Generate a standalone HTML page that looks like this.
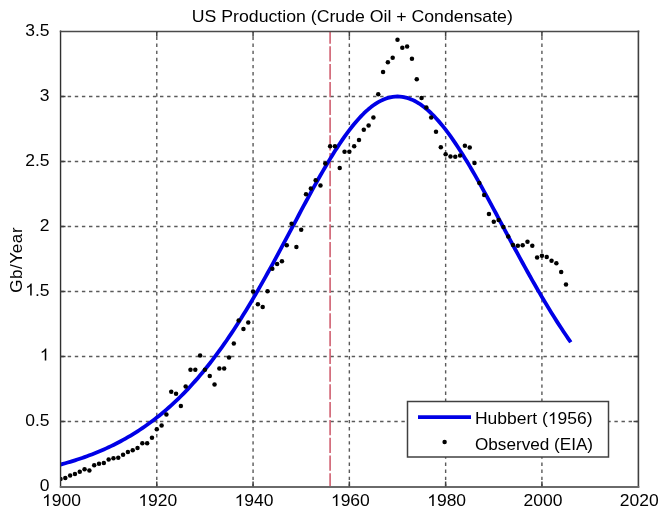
<!DOCTYPE html>
<html><head><meta charset="utf-8"><style>
html,body{margin:0;padding:0;background:#fff;width:662px;height:515px;overflow:hidden}
svg{display:block;will-change:transform}
.h{fill-opacity:0;stroke:none}
text{font-family:"Liberation Sans",sans-serif;font-size:17.5px;fill:#000;stroke:none}
</style></head><body>
<svg width="662" height="515" viewBox="0 0 662 515">
<rect width="662" height="515" fill="#fff"/>
<line x1="156.78" y1="31.5" x2="156.78" y2="486.5" stroke="#5a5a5a" stroke-width="1.4" stroke-dasharray="3.4 3.7" stroke-dashoffset="2.1"/>
<line x1="253.07" y1="31.5" x2="253.07" y2="486.5" stroke="#5a5a5a" stroke-width="1.4" stroke-dasharray="3.4 3.7" stroke-dashoffset="2.1"/>
<line x1="349.35" y1="31.5" x2="349.35" y2="486.5" stroke="#5a5a5a" stroke-width="1.4" stroke-dasharray="3.4 3.7" stroke-dashoffset="2.1"/>
<line x1="445.64" y1="31.5" x2="445.64" y2="486.5" stroke="#5a5a5a" stroke-width="1.4" stroke-dasharray="3.4 3.7" stroke-dashoffset="2.1"/>
<line x1="541.92" y1="31.5" x2="541.92" y2="486.5" stroke="#5a5a5a" stroke-width="1.4" stroke-dasharray="3.4 3.7" stroke-dashoffset="2.1"/>
<line x1="60.5" y1="421.50" x2="638.5" y2="421.50" stroke="#5a5a5a" stroke-width="1.4" stroke-dasharray="3.4 3.7" stroke-dashoffset="6.99"/>
<line x1="60.5" y1="356.50" x2="638.5" y2="356.50" stroke="#5a5a5a" stroke-width="1.4" stroke-dasharray="3.4 3.7" stroke-dashoffset="6.99"/>
<line x1="60.5" y1="291.50" x2="638.5" y2="291.50" stroke="#5a5a5a" stroke-width="1.4" stroke-dasharray="3.4 3.7" stroke-dashoffset="6.99"/>
<line x1="60.5" y1="226.50" x2="638.5" y2="226.50" stroke="#5a5a5a" stroke-width="1.4" stroke-dasharray="3.4 3.7" stroke-dashoffset="6.99"/>
<line x1="60.5" y1="161.50" x2="638.5" y2="161.50" stroke="#5a5a5a" stroke-width="1.4" stroke-dasharray="3.4 3.7" stroke-dashoffset="6.99"/>
<line x1="60.5" y1="96.50" x2="638.5" y2="96.50" stroke="#5a5a5a" stroke-width="1.4" stroke-dasharray="3.4 3.7" stroke-dashoffset="6.99"/>
<line x1="330.10" y1="486.5" x2="330.10" y2="31.5" stroke="#d06070" stroke-width="1.6" stroke-dasharray="15.29 2.5" stroke-dashoffset="2.07"/>
<defs><clipPath id="ax"><rect x="60.5" y="31.5" width="578.0" height="455.0"/></clipPath></defs><g clip-path="url(#ax)">
<path d="M60.50,464.55 L62.91,463.90 L65.31,463.22 L67.72,462.53 L70.13,461.82 L72.54,461.09 L74.94,460.33 L77.35,459.56 L79.76,458.76 L82.16,457.94 L84.57,457.10 L86.98,456.23 L89.39,455.34 L91.79,454.42 L94.20,453.48 L96.61,452.51 L99.01,451.51 L101.42,450.49 L103.83,449.44 L106.23,448.36 L108.64,447.24 L111.05,446.10 L113.46,444.93 L115.86,443.73 L118.27,442.49 L120.68,441.22 L123.08,439.91 L125.49,438.57 L127.90,437.20 L130.31,435.78 L132.71,434.33 L135.12,432.85 L137.53,431.32 L139.93,429.75 L142.34,428.15 L144.75,426.50 L147.16,424.81 L149.56,423.07 L151.97,421.29 L154.38,419.47 L156.78,417.60 L159.19,415.69 L161.60,413.73 L164.01,411.72 L166.41,409.66 L168.82,407.55 L171.23,405.39 L173.63,403.18 L176.04,400.92 L178.45,398.61 L180.85,396.24 L183.26,393.82 L185.67,391.35 L188.08,388.82 L190.48,386.23 L192.89,383.59 L195.30,380.89 L197.70,378.13 L200.11,375.32 L202.52,372.44 L204.93,369.51 L207.33,366.52 L209.74,363.47 L212.15,360.36 L214.55,357.20 L216.96,353.97 L219.37,350.68 L221.78,347.33 L224.18,343.93 L226.59,340.46 L229.00,336.94 L231.40,333.36 L233.81,329.72 L236.22,326.03 L238.63,322.27 L241.03,318.47 L243.44,314.60 L245.85,310.69 L248.25,306.72 L250.66,302.70 L253.07,298.64 L255.48,294.52 L257.88,290.36 L260.29,286.16 L262.70,281.91 L265.10,277.62 L267.51,273.30 L269.92,268.94 L272.32,264.55 L274.73,260.13 L277.14,255.68 L279.55,251.20 L281.95,246.71 L284.36,242.20 L286.77,237.68 L289.17,233.15 L291.58,228.61 L293.99,224.07 L296.40,219.53 L298.80,215.00 L301.21,210.48 L303.62,205.97 L306.02,201.49 L308.43,197.03 L310.84,192.60 L313.25,188.20 L315.65,183.85 L318.06,179.54 L320.47,175.28 L322.87,171.08 L325.28,166.94 L327.69,162.86 L330.10,158.86 L332.50,154.94 L334.91,151.10 L337.32,147.35 L339.72,143.69 L342.13,140.13 L344.54,136.68 L346.94,133.34 L349.35,130.12 L351.76,127.01 L354.17,124.04 L356.57,121.19 L358.98,118.48 L361.39,115.90 L363.79,113.48 L366.20,111.20 L368.61,109.07 L371.02,107.10 L373.42,105.29 L375.83,103.64 L378.24,102.15 L380.64,100.84 L383.05,99.69 L385.46,98.72 L387.87,97.92 L390.27,97.30 L392.68,96.86 L395.09,96.59 L397.49,96.50 L399.90,96.59 L402.31,96.85 L404.72,97.29 L407.12,97.91 L409.53,98.69 L411.94,99.65 L414.34,100.78 L416.75,102.08 L419.16,103.55 L421.56,105.17 L423.97,106.96 L426.38,108.91 L428.79,111.01 L431.19,113.26 L433.60,115.66 L436.01,118.20 L438.41,120.88 L440.82,123.69 L443.23,126.63 L445.64,129.70 L448.04,132.89 L450.45,136.19 L452.86,139.60 L455.26,143.12 L457.67,146.74 L460.08,150.45 L462.49,154.25 L464.89,158.13 L467.30,162.09 L469.71,166.12 L472.11,170.22 L474.52,174.39 L476.93,178.60 L479.34,182.87 L481.74,187.19 L484.15,191.55 L486.56,195.94 L488.96,200.36 L491.37,204.81 L493.78,209.28 L496.19,213.77 L498.59,218.27 L501.00,222.78 L503.41,227.29 L505.81,231.80 L508.22,236.30 L510.63,240.80 L513.03,245.28 L515.44,249.75 L517.85,254.20 L520.26,258.63 L522.66,263.03 L525.07,267.40 L527.48,271.75 L529.88,276.05 L532.29,280.33 L534.70,284.56 L537.11,288.75 L539.51,292.90 L541.92,297.01 L544.33,301.07 L546.73,305.08 L549.14,309.04 L551.55,312.95 L553.96,316.81 L556.36,320.62 L558.77,324.37 L561.18,328.07 L563.58,331.71 L565.99,335.29 L568.40,338.82 L570.81,342.29" fill="none" stroke="#0000e6" stroke-width="3.8" stroke-linecap="butt" stroke-linejoin="round"/>
<circle cx="60.50" cy="478.90" r="2.25" fill="#000"/>
<circle cx="65.31" cy="478.00" r="2.25" fill="#000"/>
<circle cx="70.13" cy="475.40" r="2.25" fill="#000"/>
<circle cx="74.94" cy="473.90" r="2.25" fill="#000"/>
<circle cx="79.76" cy="471.70" r="2.25" fill="#000"/>
<circle cx="84.57" cy="469.20" r="2.25" fill="#000"/>
<circle cx="89.39" cy="470.60" r="2.25" fill="#000"/>
<circle cx="94.20" cy="465.20" r="2.25" fill="#000"/>
<circle cx="99.01" cy="463.80" r="2.25" fill="#000"/>
<circle cx="103.83" cy="463.00" r="2.25" fill="#000"/>
<circle cx="108.64" cy="459.50" r="2.25" fill="#000"/>
<circle cx="113.46" cy="458.20" r="2.25" fill="#000"/>
<circle cx="118.27" cy="457.80" r="2.25" fill="#000"/>
<circle cx="123.08" cy="454.70" r="2.25" fill="#000"/>
<circle cx="127.90" cy="452.10" r="2.25" fill="#000"/>
<circle cx="132.71" cy="450.30" r="2.25" fill="#000"/>
<circle cx="137.53" cy="447.90" r="2.25" fill="#000"/>
<circle cx="142.34" cy="443.30" r="2.25" fill="#000"/>
<circle cx="147.16" cy="443.30" r="2.25" fill="#000"/>
<circle cx="151.97" cy="437.70" r="2.25" fill="#000"/>
<circle cx="156.78" cy="429.20" r="2.25" fill="#000"/>
<circle cx="161.60" cy="425.40" r="2.25" fill="#000"/>
<circle cx="166.41" cy="414.40" r="2.25" fill="#000"/>
<circle cx="171.23" cy="391.80" r="2.25" fill="#000"/>
<circle cx="176.04" cy="393.80" r="2.25" fill="#000"/>
<circle cx="180.85" cy="406.00" r="2.25" fill="#000"/>
<circle cx="185.67" cy="386.60" r="2.25" fill="#000"/>
<circle cx="190.48" cy="369.70" r="2.25" fill="#000"/>
<circle cx="195.30" cy="369.70" r="2.25" fill="#000"/>
<circle cx="200.11" cy="355.60" r="2.25" fill="#000"/>
<circle cx="204.93" cy="369.70" r="2.25" fill="#000"/>
<circle cx="209.74" cy="376.00" r="2.25" fill="#000"/>
<circle cx="214.55" cy="384.60" r="2.25" fill="#000"/>
<circle cx="219.37" cy="368.60" r="2.25" fill="#000"/>
<circle cx="224.18" cy="368.60" r="2.25" fill="#000"/>
<circle cx="229.00" cy="357.50" r="2.25" fill="#000"/>
<circle cx="233.81" cy="343.60" r="2.25" fill="#000"/>
<circle cx="238.63" cy="320.50" r="2.25" fill="#000"/>
<circle cx="243.44" cy="328.90" r="2.25" fill="#000"/>
<circle cx="248.25" cy="322.50" r="2.25" fill="#000"/>
<circle cx="253.07" cy="291.50" r="2.25" fill="#000"/>
<circle cx="257.88" cy="304.20" r="2.25" fill="#000"/>
<circle cx="262.70" cy="306.90" r="2.25" fill="#000"/>
<circle cx="267.51" cy="291.30" r="2.25" fill="#000"/>
<circle cx="272.32" cy="268.80" r="2.25" fill="#000"/>
<circle cx="277.14" cy="264.10" r="2.25" fill="#000"/>
<circle cx="281.95" cy="261.30" r="2.25" fill="#000"/>
<circle cx="286.77" cy="245.20" r="2.25" fill="#000"/>
<circle cx="291.58" cy="223.80" r="2.25" fill="#000"/>
<circle cx="296.40" cy="247.00" r="2.25" fill="#000"/>
<circle cx="301.21" cy="229.80" r="2.25" fill="#000"/>
<circle cx="306.02" cy="194.20" r="2.25" fill="#000"/>
<circle cx="310.84" cy="188.40" r="2.25" fill="#000"/>
<circle cx="315.65" cy="180.30" r="2.25" fill="#000"/>
<circle cx="320.47" cy="185.50" r="2.25" fill="#000"/>
<circle cx="325.28" cy="163.40" r="2.25" fill="#000"/>
<circle cx="330.10" cy="146.30" r="2.25" fill="#000"/>
<circle cx="334.91" cy="146.30" r="2.25" fill="#000"/>
<circle cx="339.72" cy="168.10" r="2.25" fill="#000"/>
<circle cx="344.54" cy="151.80" r="2.25" fill="#000"/>
<circle cx="349.35" cy="151.80" r="2.25" fill="#000"/>
<circle cx="354.17" cy="146.30" r="2.25" fill="#000"/>
<circle cx="358.98" cy="139.90" r="2.25" fill="#000"/>
<circle cx="363.79" cy="129.80" r="2.25" fill="#000"/>
<circle cx="368.61" cy="125.60" r="2.25" fill="#000"/>
<circle cx="373.42" cy="117.60" r="2.25" fill="#000"/>
<circle cx="378.24" cy="94.30" r="2.25" fill="#000"/>
<circle cx="383.05" cy="72.10" r="2.25" fill="#000"/>
<circle cx="387.87" cy="62.20" r="2.25" fill="#000"/>
<circle cx="392.68" cy="57.80" r="2.25" fill="#000"/>
<circle cx="397.49" cy="39.80" r="2.25" fill="#000"/>
<circle cx="402.31" cy="47.70" r="2.25" fill="#000"/>
<circle cx="407.12" cy="46.60" r="2.25" fill="#000"/>
<circle cx="411.94" cy="58.80" r="2.25" fill="#000"/>
<circle cx="416.75" cy="79.20" r="2.25" fill="#000"/>
<circle cx="421.56" cy="97.90" r="2.25" fill="#000"/>
<circle cx="426.38" cy="107.60" r="2.25" fill="#000"/>
<circle cx="431.19" cy="117.50" r="2.25" fill="#000"/>
<circle cx="436.01" cy="131.70" r="2.25" fill="#000"/>
<circle cx="440.82" cy="147.20" r="2.25" fill="#000"/>
<circle cx="445.64" cy="154.20" r="2.25" fill="#000"/>
<circle cx="450.45" cy="156.40" r="2.25" fill="#000"/>
<circle cx="455.26" cy="156.80" r="2.25" fill="#000"/>
<circle cx="460.08" cy="155.60" r="2.25" fill="#000"/>
<circle cx="464.89" cy="145.70" r="2.25" fill="#000"/>
<circle cx="469.71" cy="147.50" r="2.25" fill="#000"/>
<circle cx="474.52" cy="163.00" r="2.25" fill="#000"/>
<circle cx="479.34" cy="183.00" r="2.25" fill="#000"/>
<circle cx="484.15" cy="195.00" r="2.25" fill="#000"/>
<circle cx="488.96" cy="214.10" r="2.25" fill="#000"/>
<circle cx="493.78" cy="221.80" r="2.25" fill="#000"/>
<circle cx="498.59" cy="219.90" r="2.25" fill="#000"/>
<circle cx="503.41" cy="226.90" r="2.25" fill="#000"/>
<circle cx="508.22" cy="236.50" r="2.25" fill="#000"/>
<circle cx="513.03" cy="244.90" r="2.25" fill="#000"/>
<circle cx="517.85" cy="245.80" r="2.25" fill="#000"/>
<circle cx="522.66" cy="245.30" r="2.25" fill="#000"/>
<circle cx="527.48" cy="241.80" r="2.25" fill="#000"/>
<circle cx="532.29" cy="245.80" r="2.25" fill="#000"/>
<circle cx="537.11" cy="257.40" r="2.25" fill="#000"/>
<circle cx="541.92" cy="255.70" r="2.25" fill="#000"/>
<circle cx="546.73" cy="257.10" r="2.25" fill="#000"/>
<circle cx="551.55" cy="260.80" r="2.25" fill="#000"/>
<circle cx="556.36" cy="263.30" r="2.25" fill="#000"/>
<circle cx="561.18" cy="272.00" r="2.25" fill="#000"/>
<circle cx="565.99" cy="284.50" r="2.25" fill="#000"/>
</g>
<line x1="60.55" y1="30.5" x2="60.55" y2="487.5" stroke="#303030" stroke-width="1.4"/>
<line x1="638.4" y1="30.5" x2="638.4" y2="487.5" stroke="#404040" stroke-width="1.6"/>
<line x1="59.8" y1="31.45" x2="639.3" y2="31.45" stroke="#4a4a4a" stroke-width="1.5"/>
<line x1="59.8" y1="486.9" x2="639.3" y2="486.9" stroke="#6a6a6a" stroke-width="2.0"/>
<line x1="156.78" y1="486.5" x2="156.78" y2="481.5" stroke="#404040" stroke-width="1.5"/>
<line x1="156.78" y1="31.5" x2="156.78" y2="36.5" stroke="#404040" stroke-width="1.5"/>
<line x1="253.07" y1="486.5" x2="253.07" y2="481.5" stroke="#404040" stroke-width="1.5"/>
<line x1="253.07" y1="31.5" x2="253.07" y2="36.5" stroke="#404040" stroke-width="1.5"/>
<line x1="349.35" y1="486.5" x2="349.35" y2="481.5" stroke="#404040" stroke-width="1.5"/>
<line x1="349.35" y1="31.5" x2="349.35" y2="36.5" stroke="#404040" stroke-width="1.5"/>
<line x1="445.64" y1="486.5" x2="445.64" y2="481.5" stroke="#404040" stroke-width="1.5"/>
<line x1="445.64" y1="31.5" x2="445.64" y2="36.5" stroke="#404040" stroke-width="1.5"/>
<line x1="541.92" y1="486.5" x2="541.92" y2="481.5" stroke="#404040" stroke-width="1.5"/>
<line x1="541.92" y1="31.5" x2="541.92" y2="36.5" stroke="#404040" stroke-width="1.5"/>
<line x1="60.5" y1="421.50" x2="65.5" y2="421.50" stroke="#404040" stroke-width="1.5"/>
<line x1="638.5" y1="421.50" x2="633.5" y2="421.50" stroke="#404040" stroke-width="1.5"/>
<line x1="60.5" y1="356.50" x2="65.5" y2="356.50" stroke="#404040" stroke-width="1.5"/>
<line x1="638.5" y1="356.50" x2="633.5" y2="356.50" stroke="#404040" stroke-width="1.5"/>
<line x1="60.5" y1="291.50" x2="65.5" y2="291.50" stroke="#404040" stroke-width="1.5"/>
<line x1="638.5" y1="291.50" x2="633.5" y2="291.50" stroke="#404040" stroke-width="1.5"/>
<line x1="60.5" y1="226.50" x2="65.5" y2="226.50" stroke="#404040" stroke-width="1.5"/>
<line x1="638.5" y1="226.50" x2="633.5" y2="226.50" stroke="#404040" stroke-width="1.5"/>
<line x1="60.5" y1="161.50" x2="65.5" y2="161.50" stroke="#404040" stroke-width="1.5"/>
<line x1="638.5" y1="161.50" x2="633.5" y2="161.50" stroke="#404040" stroke-width="1.5"/>
<line x1="60.5" y1="96.50" x2="65.5" y2="96.50" stroke="#404040" stroke-width="1.5"/>
<line x1="638.5" y1="96.50" x2="633.5" y2="96.50" stroke="#404040" stroke-width="1.5"/>
<rect x="407.5" y="401.5" width="201" height="55.5" fill="#fff" stroke="#404040" stroke-width="1.5"/>
<line x1="418" y1="417.2" x2="471" y2="417.2" stroke="#0000e6" stroke-width="3.8"/>
<circle cx="444.6" cy="442.1" r="2.25" fill="#000"/>
<text x="0" y="0" transform="translate(475,424.1) scale(1,0.95)" text-anchor="start" >Hubbert (<tspan class="h">1</tspan>956)</text>
<text x="0" y="0" transform="translate(475,450.2) scale(0.98,0.95)" text-anchor="start" >Observed (EIA)</text>
<text x="0" y="0" transform="translate(49.5,490.50) scale(1,0.95)" text-anchor="end" >0</text>
<text x="0" y="0" transform="translate(49.5,425.50) scale(1,0.95)" text-anchor="end" >0.5</text>
<text x="0" y="0" transform="translate(49.5,360.50) scale(1,0.95)" text-anchor="end" ><tspan class="h">1</tspan></text>
<text x="0" y="0" transform="translate(49.5,295.50) scale(1,0.95)" text-anchor="end" ><tspan class="h">1</tspan>.5</text>
<text x="0" y="0" transform="translate(49.5,230.50) scale(1,0.95)" text-anchor="end" >2</text>
<text x="0" y="0" transform="translate(49.5,165.50) scale(1,0.95)" text-anchor="end" >2.5</text>
<text x="0" y="0" transform="translate(49.5,100.50) scale(1,0.95)" text-anchor="end" >3</text>
<text x="0" y="0" transform="translate(49.5,35.50) scale(1,0.95)" text-anchor="end" >3.5</text>
<text x="0" y="0" transform="translate(61.50,506.1) scale(1,0.95)" text-anchor="middle" ><tspan class="h">1</tspan>900</text>
<text x="0" y="0" transform="translate(157.78,506.1) scale(1,0.95)" text-anchor="middle" ><tspan class="h">1</tspan>920</text>
<text x="0" y="0" transform="translate(254.07,506.1) scale(1,0.95)" text-anchor="middle" ><tspan class="h">1</tspan>940</text>
<text x="0" y="0" transform="translate(350.35,506.1) scale(1,0.95)" text-anchor="middle" ><tspan class="h">1</tspan>960</text>
<text x="0" y="0" transform="translate(446.64,506.1) scale(1,0.95)" text-anchor="middle" ><tspan class="h">1</tspan>980</text>
<text x="0" y="0" transform="translate(542.92,506.1) scale(1,0.95)" text-anchor="middle" >2000</text>
<text x="0" y="0" transform="translate(639.20,506.1) scale(1,0.95)" text-anchor="middle" >2020</text>
<text x="0" y="0" transform="translate(352.3,21.85) scale(1,0.95)" text-anchor="middle" style="font-size:17.7px">US Production (Crude Oil + Condensate)</text>
<text x="0" y="0" text-anchor="middle" transform="translate(22.4,259.8) rotate(-90) scale(1,1.0)" style="font-size:17px;letter-spacing:0.6px">Gb/Year</text>
<path transform="translate(547.86,424.10) scale(0.00854,-0.00812)" d="M763 0L583 0L583 1147C540 1106 483 1064 413 1023C343 982 280 951 224 930L224 1104C325 1151 413 1209 488 1276C563 1343 616 1408 647 1472L763 1472Z" fill="#000"/>
<path transform="translate(39.78,360.50) scale(0.00854,-0.00812)" d="M763 0L583 0L583 1147C540 1106 483 1064 413 1023C343 982 280 951 224 930L224 1104C325 1151 413 1209 488 1276C563 1343 616 1408 647 1472L763 1472Z" fill="#000"/>
<path transform="translate(25.20,295.50) scale(0.00854,-0.00812)" d="M763 0L583 0L583 1147C540 1106 483 1064 413 1023C343 982 280 951 224 930L224 1104C325 1151 413 1209 488 1276C563 1343 616 1408 647 1472L763 1472Z" fill="#000"/>
<path transform="translate(42.05,506.10) scale(0.00854,-0.00812)" d="M763 0L583 0L583 1147C540 1106 483 1064 413 1023C343 982 280 951 224 930L224 1104C325 1151 413 1209 488 1276C563 1343 616 1408 647 1472L763 1472Z" fill="#000"/>
<path transform="translate(138.33,506.10) scale(0.00854,-0.00812)" d="M763 0L583 0L583 1147C540 1106 483 1064 413 1023C343 982 280 951 224 930L224 1104C325 1151 413 1209 488 1276C563 1343 616 1408 647 1472L763 1472Z" fill="#000"/>
<path transform="translate(234.62,506.10) scale(0.00854,-0.00812)" d="M763 0L583 0L583 1147C540 1106 483 1064 413 1023C343 982 280 951 224 930L224 1104C325 1151 413 1209 488 1276C563 1343 616 1408 647 1472L763 1472Z" fill="#000"/>
<path transform="translate(330.90,506.10) scale(0.00854,-0.00812)" d="M763 0L583 0L583 1147C540 1106 483 1064 413 1023C343 982 280 951 224 930L224 1104C325 1151 413 1209 488 1276C563 1343 616 1408 647 1472L763 1472Z" fill="#000"/>
<path transform="translate(427.19,506.10) scale(0.00854,-0.00812)" d="M763 0L583 0L583 1147C540 1106 483 1064 413 1023C343 982 280 951 224 930L224 1104C325 1151 413 1209 488 1276C563 1343 616 1408 647 1472L763 1472Z" fill="#000"/>
</svg>
</body></html>
